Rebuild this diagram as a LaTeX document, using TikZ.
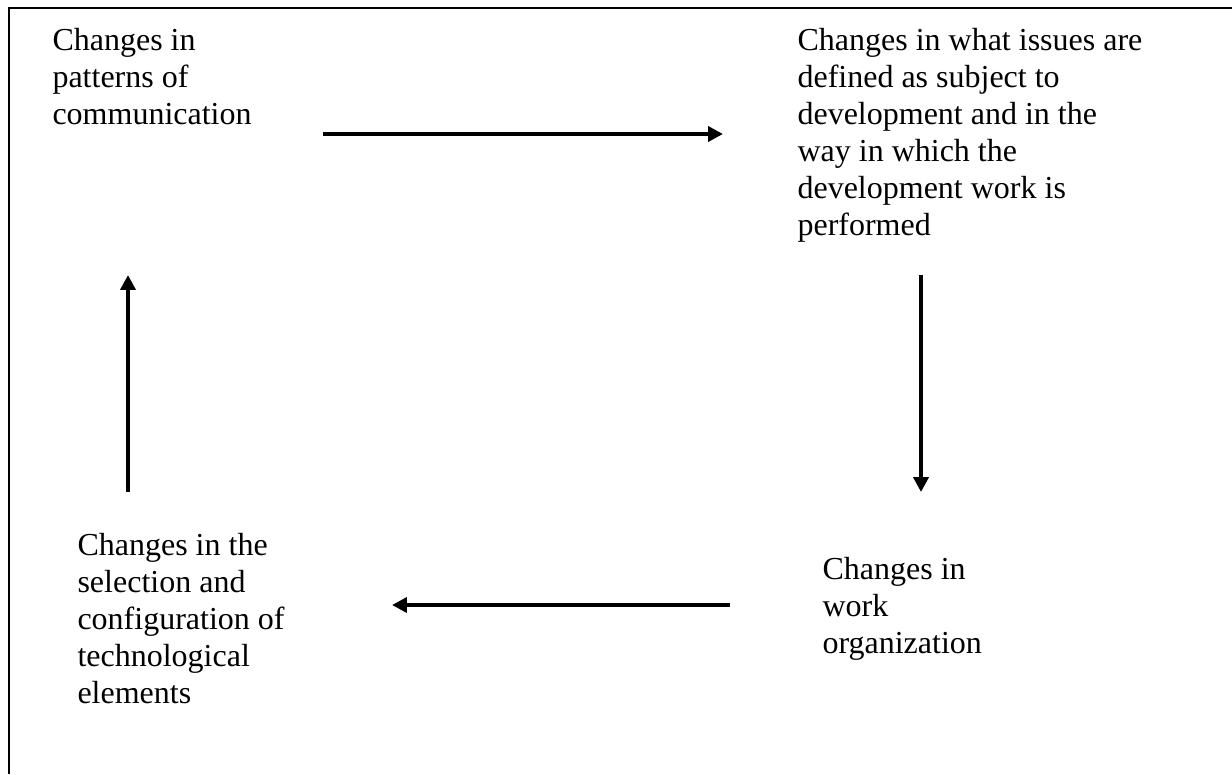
\documentclass[tikz,border=0pt]{standalone}
\usepackage{fontspec}
\setmainfont{Liberation Serif}
\usetikzlibrary{arrows.meta}
\begin{document}
\begin{tikzpicture}[x=0.375pt,y=-0.375pt,>={Triangle[length=5.6pt,width=5.6pt]},
  txt/.style={align=left,anchor=north west,inner sep=0pt,font=\fontsize{12}{13.85}\selectfont},
  flow/.style={->,line width=1.5pt}]
\useasboundingbox (0,0) rectangle (1232,774);
% frame: only the top and left edges show
\draw[line width=0.75pt] (9,774) -- (9,8) -- (1232,8);
\node[txt] (comm) at (52,28) {Changes in\\patterns of\\communication};
\node[txt] (dev) at (797,28) {Changes in what issues are\\defined as subject to\\development and in the\\way in which the\\development work is\\performed};
\node[txt] (work) at (822,557) {Changes in\\work\\organization};
\node[txt] (tech) at (77,533) {Changes in the\\selection and\\configuration of\\technological\\elements};
% arrow ends
\coordinate (comm-out) at (323,134);
\coordinate (dev-in) at (723,134);
\coordinate (dev-out) at (921,275);
\coordinate (work-in) at (921,492);
\coordinate (work-out) at (730,605);
\coordinate (tech-in) at (392,605);
\coordinate (tech-out) at (128,492);
\coordinate (comm-in) at (128,275);
\draw[flow] (comm-out) -- (dev-in);
\draw[flow] (dev-out) -- (work-in);
\draw[flow] (work-out) -- (tech-in);
\draw[flow] (tech-out) -- (comm-in);
\end{tikzpicture}
\end{document}
